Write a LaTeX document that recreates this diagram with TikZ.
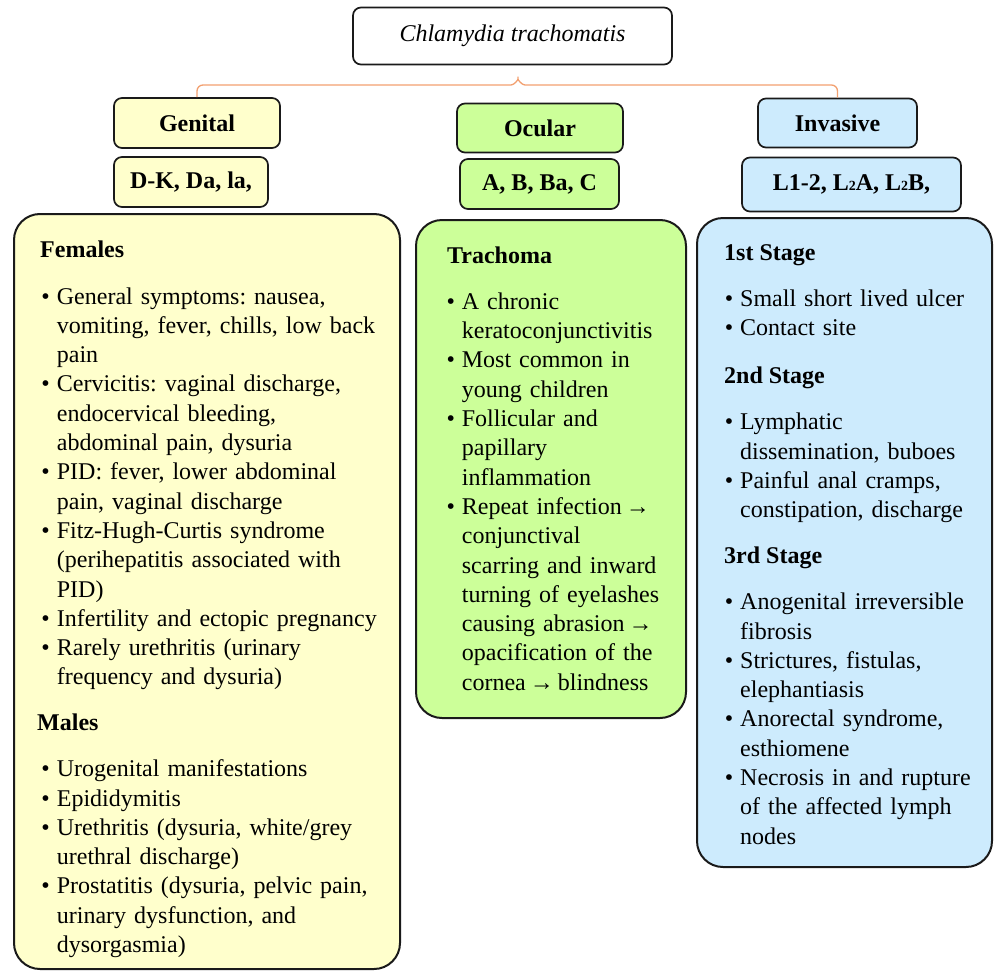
\documentclass[tikz,border=0pt]{standalone}
\usepackage{fontspec}
\setmainfont{Liberation Serif}
\frenchspacing
\definecolor{gfill}{HTML}{FFFFCC}
\definecolor{ofill}{HTML}{CCFF99}
\definecolor{ifill}{HTML}{CDEBFD}
\definecolor{bracecol}{HTML}{F2A070}
\definecolor{edge}{HTML}{1A1A1A}
\newcommand\fs{\fontsize{24pt}{29.3pt}\selectfont}
\newcommand\itm{\leavevmode\llap{\textbullet\hspace{7pt}}}
\newcommand\arr{\,\textrightarrow\,}
\newcommand\sub[1]{{\fontsize{14pt}{14pt}\selectfont #1}}
\tikzset{
  hbox/.style={draw=edge, line width=1.7pt, rounded corners=8pt, inner sep=0pt, font=\fs\bfseries},
  cbox/.style={draw=edge, line width=2pt, rounded corners=26pt, inner sep=0pt},
  hd/.style={anchor=base west, inner sep=0pt, font=\fs\bfseries},
  lst/.style={anchor=base west, inner sep=0pt, text width=330pt, align=left, font=\fs},
  brace/.style={draw=bracecol, line width=1.3pt, rounded corners=6pt}
}
\begin{document}
\begin{tikzpicture}[x=1pt,y=-1pt]
\useasboundingbox (0,0) rectangle (994,972);
% content boxes
\node[cbox, fill=gfill, minimum width=386pt, minimum height=755pt] (gbox) at (207,591.5) {};
\node[cbox, fill=ofill, minimum width=270pt, minimum height=498pt] (obox) at (551,469) {};
\node[cbox, fill=ifill, minimum width=295pt, minimum height=649pt] (ibox) at (844.5,542.5) {};
% headers
\node[hbox, fill=white, font=\fs\itshape, minimum width=319pt, minimum height=57pt] (top) at (512.5,36) {Chlamydia trachomatis};
\node[hbox, fill=gfill, minimum width=166pt, minimum height=50pt] (gen) at (197,123) {Genital};
\node[hbox, fill=gfill, minimum width=154pt, minimum height=50pt] (gensub) at (191,182) {D-K, Da, la,};
\node[hbox, fill=ofill, minimum width=166pt, minimum height=49pt] (ocu) at (540,128) {Ocular};
\node[hbox, fill=ofill, minimum width=159pt, minimum height=50pt] (ocusub) at (539.5,184) {A, B, Ba, C};
\node[hbox, fill=ifill, minimum width=159pt, minimum height=49pt] (inv) at (837.5,123) {Invasive};
\node[hbox, fill=ifill, minimum width=219pt, minimum height=54pt] (invsub) at (851.5,184.5) {L1-2, L\sub{2}A, L\sub{2}B,};
% brace
\coordinate (bc) at (518,85);
\coordinate (tip) at (518,73);
\draw[brace] (gen.north) -- (gen.north |- bc) -- (505,85)
  .. controls (514,85) and (518,80) .. (tip)
  .. controls (518,80) and (522,85) .. (531,85)
  -- (inv.north |- bc) -- (inv.north);
% Genital text
\node[hd] (femh) at (40,257) {Females};
\node[lst] (fem) at (56.7,304) {\itm General symptoms: nausea,\\
vomiting, fever, chills, low back\\
pain\\
\itm Cervicitis: vaginal discharge,\\
endocervical bleeding,\\
abdominal pain, dysuria\\
\itm PID: fever, lower abdominal\\
pain, vaginal discharge\\
\itm Fitz-Hugh-Curtis syndrome\\
(perihepatitis associated with\\
PID)\\
\itm Infertility and ectopic pregnancy\\
\itm Rarely urethritis (urinary\\
frequency and dysuria)};
\node[hd] (malh) at (37,730) {Males};
\node[lst] (mal) at (56.7,776.7) {\itm Urogenital manifestations\\
\itm Epididymitis\\
\itm Urethritis (dysuria, white/grey\\
urethral discharge)\\
\itm Prostatitis (dysuria, pelvic pain,\\
urinary dysfunction, and\\
dysorgasmia)};
% Ocular text
\node[hd] (trah) at (447,263.3) {Trachoma};
\node[lst] (tra) at (461.7,309.3) {\itm A chronic\\
keratoconjunctivitis\\
\itm Most common in\\
young children\\
\itm Follicular and\\
papillary\\
inflammation\\
\itm Repeat infection\arr\\
conjunctival\\
scarring and inward\\
turning of eyelashes\\
causing abrasion\arr\\
opacification of the\\
cornea\arr blindness};
% Invasive text
\node[hd] (s1h) at (724,260) {1st Stage};
\node[lst] (s1) at (740,306) {\itm Small short lived ulcer\\
\itm Contact site};
\node[hd] (s2h) at (724,383.7) {2nd Stage};
\node[lst] (s2) at (740,429.7) {\itm Lymphatic\\
dissemination, buboes\\
\itm Painful anal cramps,\\
constipation, discharge};
\node[hd] (s3h) at (724,563.6) {3rd Stage};
\node[lst] (s3) at (740,609.7) {\itm Anogenital irreversible\\
fibrosis\\
\itm Strictures, fistulas,\\
elephantiasis\\
\itm Anorectal syndrome,\\
esthiomene\\
\itm Necrosis in and rupture\\
of the affected lymph\\
nodes};
\end{tikzpicture}
\end{document}
